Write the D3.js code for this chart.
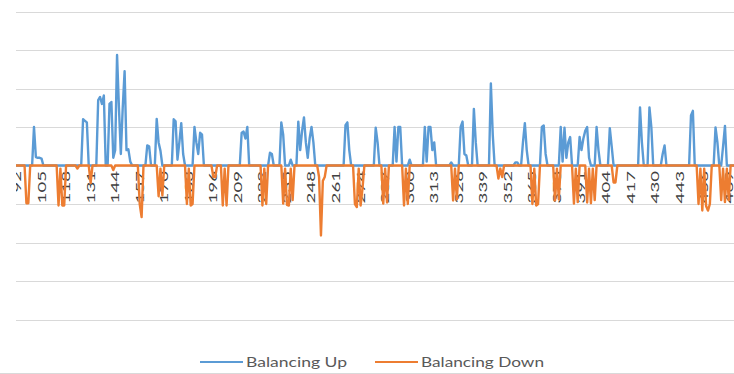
<!DOCTYPE html>
<html>
<head>
<meta charset="utf-8">
<script src="https://cdn.jsdelivr.net/npm/d3@7"></script>
<style>
  html, body { margin: 0; padding: 0; background: #ffffff; }
  svg { display: block; }
</style>
</head>
<body>
<svg id="chart" width="734" height="374"></svg>
<script>
// Settlement periods shown, starting at period 91 (one value per period)
const firstPeriod = 91;

// Balancing Up volume per period (rows of ten periods: 91-100, 101-110, ...)
const balancingUp = [
  0, 0, 0, 0, 0, 0, 0, 0, 0, 0,
  100, 22, 20, 20, 18, 0, 0, 0, 0, 0,
  0, 0, 0, 0, 0, 0, 0, 0, 0, 0,
  0, 0, 0, 0, 0, 0, 120, 116, 112, 0,
  0, 0, 0, 0, 170, 178, 160, 182, 0, 0,
  160, 165, 20, 40, 287, 150, 30, 150, 245, 40,
  42, 10, 0, 0, 0, 0, 0, 0, 0, 0,
  52, 50, 0, 0, 0, 121, 60, 38, 0, 0,
  0, 0, 0, 0, 120, 115, 15, 60, 110, 30,
  0, 0, 0, 0, 0, 100, 60, 30, 85, 80,
  0, 0, 0, 0, 0, 0, 0, 0, 0, 0,
  0, 0, 0, 0, 0, 0, 0, 0, 0, 0,
  85, 88, 70, 100, 0, 0, 0, 0, 0, 0,
  0, 0, 0, 0, 0, 33, 30, 0, 0, 0,
  0, 112, 80, 0, 0, 0, 15, 0, 0, 0,
  114, 40, 90, 125, 60, 20, 70, 100, 60, 0,
  0, 0, 0, 0, 0, 0, 0, 0, 0, 0,
  0, 0, 0, 0, 0, 105, 112, 40, 0, 0,
  0, 0, 0, 0, 0, 0, 0, 0, 0, 0,
  0, 98, 60, 0, 0, 0, 0, 0, 0, 0,
  0, 100, 10, 100, 100, 0, 0, 0, 0, 15,
  0, 0, 0, 0, 0, 0, 0, 100, 10, 100,
  100, 40, 60, 0, 0, 0, 0, 0, 0, 0,
  0, 8, 0, 0, 0, 0, 100, 114, 30, 26,
  0, 0, 0, 147, 60, 0, 0, 0, 0, 0,
  0, 0, 213, 80, 0, 0, 0, 0, 0, 0,
  0, 0, 0, 0, 0, 8, 8, 0, 0, 60,
  110, 40, 0, 0, 0, 0, 0, 0, 0, 100,
  104, 30, 0, 0, 0, 0, 0, 0, 0, 100,
  10, 98, 20, 60, 74, 0, 0, 0, 0, 74,
  40, 70, 90, 100, 20, 0, 0, 0, 100, 40,
  0, 0, 0, 0, 0, 97, 50, 0, 0, 0,
  0, 0, 0, 0, 0, 0, 0, 0, 0, 0,
  0, 151, 60, 0, 0, 0, 151, 100, 0, 0,
  0, 0, 0, 30, 52, 0, 0, 0, 0, 0,
  0, 0, 0, 0, 0, 0, 0, 0, 130, 142,
  0, 0, 0, 0, 0, 0, 0, 0, 0, 0,
  0, 99, 60, 0, 0, 50, 103, 0, 0, 0,
  0, 0, 0, 0
];

// Balancing Down volume per period (same layout)
const balancingDown = [
  0, 0, 0, 0, 0, 0, -98, -98, 0, 0,
  0, 0, 0, 0, 0, 0, 0, 0, 0, 0,
  0, 0, 0, -104, -8, -104, -104, 0, 0, 0,
  0, 0, 0, -8, 0, 0, 0, 0, 0, 0,
  -45, 0, 0, 0, 0, 0, 0, 0, 0, 0,
  0, 0, -12, 0, 0, 0, 0, 0, 0, 0,
  0, 0, 0, 0, 0, 0, -100, -134, 0, 0,
  0, 0, 0, 0, 0, 0, -80, -8, -78, 0,
  0, 0, 0, 0, 0, 0, 0, 0, 0, 0,
  0, -100, -8, -104, -100, 0, 0, 0, 0, 0,
  0, 0, 0, 0, 0, -30, -30, 0, 0, 0,
  -104, -8, -104, 0, 0, 0, 0, 0, 0, 0,
  0, 0, 0, 0, 0, 0, 0, 0, 0, 0,
  0, -104, -8, -100, 0, 0, 0, 0, 0, 0,
  0, 0, -99, -8, -102, -104, -8, -90, 0, 0,
  0, 0, 0, 0, 0, 0, 0, 0, 0, 0,
  0, -30, -182, -40, -30, 0, 0, 0, 0, 0,
  0, 0, 0, 0, 0, 0, 0, 0, 0, 0,
  -100, -108, -8, -104, -60, 0, 0, 0, 0, 0,
  0, 0, 0, 0, 0, -99, -8, -96, 0, 0,
  0, 0, 0, 0, 0, 0, -104, -8, -100, 0,
  0, 0, 0, 0, 0, 0, 0, 0, 0, 0,
  0, 0, 0, 0, 0, 0, 0, 0, 0, 0,
  0, 0, -91, -8, -88, 0, 0, 0, 0, 0,
  0, 0, 0, 0, 0, 0, 0, 0, 0, 0,
  0, 0, 0, 0, 0, 0, -34, -8, -30, 0,
  0, 0, 0, 0, 0, 0, 0, 0, 0, 0,
  0, 0, 0, 0, -100, -8, -104, -100, 0, 0,
  0, 0, 0, 0, 0, 0, -91, -8, -88, 0,
  0, 0, 0, 0, 0, 0, -99, -8, -95, 0,
  0, 0, 0, -96, -8, -98, -8, -90, 0, 0,
  0, 0, 0, 0, 0, 0, 0, -44, -44, 0,
  0, 0, 0, 0, 0, 0, 0, 0, 0, 0,
  0, 0, 0, 0, 0, 0, 0, 0, 0, 0,
  0, 0, 0, 0, 0, 0, 0, 0, 0, 0,
  0, 0, 0, 0, 0, 0, 0, 0, 0, 0,
  0, 0, -100, -8, -117, -8, -105, -117, -100, 0,
  0, 0, 0, 0, -90, -8, -95, -8, -90, 0,
  0, 0, 0, 0
];

// Category axis labels (every 13th period) and value gridlines
const tickLabels = [92, 105, 118, 131, 144, 157, 170, 183, 196, 209, 222, 235, 248, 261,
  274, 287, 300, 313, 326, 339, 352, 365, 378, 391, 404, 417, 430, 443, 456, 469];
const gridValues = [-400, -300, -200, -100, 0, 100, 200, 300, 400];

const seriesNames = ["Balancing Up", "Balancing Down"];
const seriesColors = ["#5B9BD5", "#ED7D31"];

const periods = balancingUp.map((_, i) => firstPeriod + i);

const svg = d3.select("#chart");
const plotLeft = 16, plotRight = 734;

const x = d3.scaleLinear().domain([92, 456]).range([17, 704.2]);
const y = d3.scaleLinear().domain([-400, 400]).range([319.5, 11.5]);

svg.append("defs").append("clipPath").attr("id", "plotClip")
  .append("rect").attr("x", plotLeft).attr("y", 0)
  .attr("width", plotRight - plotLeft).attr("height", 340);

const plot = svg.append("g").attr("clip-path", "url(#plotClip)");

// Horizontal gridlines
plot.append("g").selectAll("line").data(gridValues).join("line")
  .attr("x1", plotLeft).attr("x2", plotRight)
  .attr("y1", d => Math.round(y(d)) + 0.5)
  .attr("y2", d => Math.round(y(d)) + 0.5)
  .attr("stroke", "#D9D9D9").attr("stroke-width", 1.2);

// Category labels, rotated, hanging below the zero line
plot.append("g").selectAll("text").data(tickLabels).join("text")
  .attr("transform", d => `translate(${x(d)},${171}) rotate(-90)`)
  .attr("text-anchor", "end")
  .attr("dy", "0.36em")
  .attr("textLength", d => String(d).length * 10.8)
  .attr("lengthAdjust", "spacingAndGlyphs")
  .attr("font-family", "Lato, 'Open Sans', sans-serif")
  .attr("font-size", 11)
  .attr("fill", "#404040")
  .text(d => d);

// Series lines
const line = d3.line().x(d => x(d[0])).y(d => y(d[1]));
[balancingUp, balancingDown].forEach((values, i) => {
  plot.append("path")
    .datum(periods.map((p, j) => [p, values[j]]))
    .attr("d", line)
    .attr("fill", "none")
    .attr("stroke", seriesColors[i])
    .attr("stroke-width", 2.4)
    .attr("stroke-linejoin", "round");
});

// Legend
const legendItems = [
  { name: seriesNames[0], color: seriesColors[0], x0: 200, tx: 246, w: 101 },
  { name: seriesNames[1], color: seriesColors[1], x0: 375, tx: 421, w: 123 }
];
const legend = svg.append("g");
legendItems.forEach(item => {
  legend.append("line")
    .attr("x1", item.x0).attr("x2", item.x0 + 43)
    .attr("y1", 362).attr("y2", 362)
    .attr("stroke", item.color).attr("stroke-width", 2.2);
  legend.append("text")
    .attr("x", item.tx).attr("y", 366.5)
    .attr("textLength", item.w)
    .attr("lengthAdjust", "spacingAndGlyphs")
    .attr("font-family", "Lato, 'Open Sans', sans-serif")
    .attr("font-size", 13)
    .attr("fill", "#595959")
    .text(item.name);
});

// Chart area bottom border
svg.append("line")
  .attr("x1", 0).attr("x2", 734).attr("y1", 373.5).attr("y2", 373.5)
  .attr("stroke", "#D9D9D9").attr("stroke-width", 1);
</script>
</body>
</html>
